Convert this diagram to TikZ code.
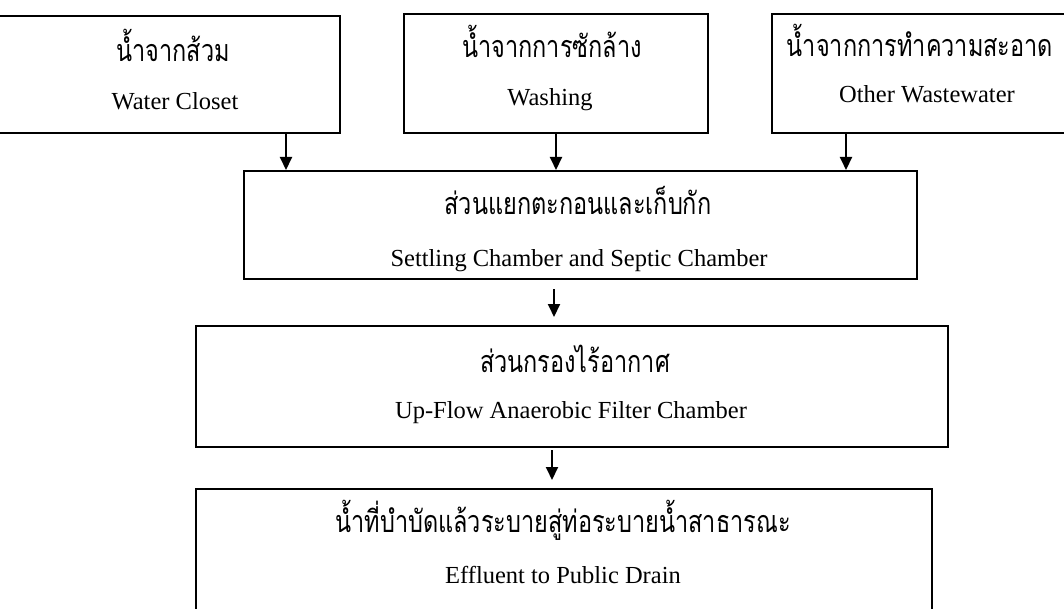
\documentclass[tikz,border=0pt]{standalone}
\usepackage{fontspec}
\setmainfont{Liberation Serif}
\newfontfamily\thaifont[Script=Thai, FakeStretch=0.77]{Loma}
\usetikzlibrary{arrows.meta}
\begin{document}
\begin{tikzpicture}[x=1pt,y=-1pt,
 box/.style={draw, line width=2pt, inner sep=0pt, anchor=north west},
 en/.style={anchor=base, inner sep=0pt, font=\fontsize{24.5}{28}\selectfont},
 th/.style={anchor=base, inner sep=0pt, font=\thaifont\fontsize{30.5}{34}\selectfont},
 flow/.style={line width=2pt, -{Triangle[length=13pt,width=12pt]}}]
\useasboundingbox (0,0) rectangle (1064,609);
\clip (0,0) rectangle (1064,609);
% boxes
\node[box, minimum width=345pt, minimum height=117pt] (wc) at (-6,15) {};
\node[box, minimum width=304pt, minimum height=119pt] (wa) at (403,13) {};
\node[box, minimum width=300pt, minimum height=119pt] (ot) at (771,13) {};
\node[box, minimum width=673pt, minimum height=108pt] (st) at (243,170) {};
\node[box, minimum width=752pt, minimum height=121pt] (af) at (195,325) {};
\node[box, minimum width=736pt, minimum height=150pt] (ef) at (195,488) {};
% texts
\node[th] (wcT) at (173,62) {น้ำจากส้วม};
\node[en] (wcE) at (175,110) {Water Closet};
\node[th] (waT) at (552,58) {น้ำจากการซักล้าง};
\node[en] (waE) at (550,106) {Washing};
\node[th] (otT) at (920,57) {น้ำจากการทำความสะอาด};
\node[en] (otE) at (927,103) {Other Wastewater};
\node[th] (stT) at (578,215) {ส่วนแยกตะกอนและเก็บกัก};
\node[en] (stE) at (579,267) {Settling Chamber and Septic Chamber};
\node[th] (afT) at (575,372) {ส่วนกรองไร้อากาศ};
\node[en] (afE) at (571,418) {Up-Flow Anaerobic Filter Chamber};
\node[th] (efT) at (563,532) {น้ำที่บำบัดแล้วระบายสู่ท่อระบายน้ำสาธารณะ};
\node[en] (efE) at (563,583) {Effluent to Public Drain};
% arrows
\draw[flow] ([xshift=118.5pt]wc.south) coordinate (p1) -- (p1 |- st.north);
\draw[flow] (wa.south) -- (wa.south |- st.north);
\draw[flow] ([xshift=-76pt]ot.south) coordinate (p3) -- (p3 |- st.north);
\draw[flow, shorten <=9pt, shorten >=8pt] ([xshift=-26.5pt]st.south) coordinate (p4) -- (p4 |- af.north);
\draw[flow, shorten <=2pt, shorten >=8pt] ([xshift=-20pt]af.south) coordinate (p5) -- (p5 |- ef.north);
\end{tikzpicture}
\end{document}
